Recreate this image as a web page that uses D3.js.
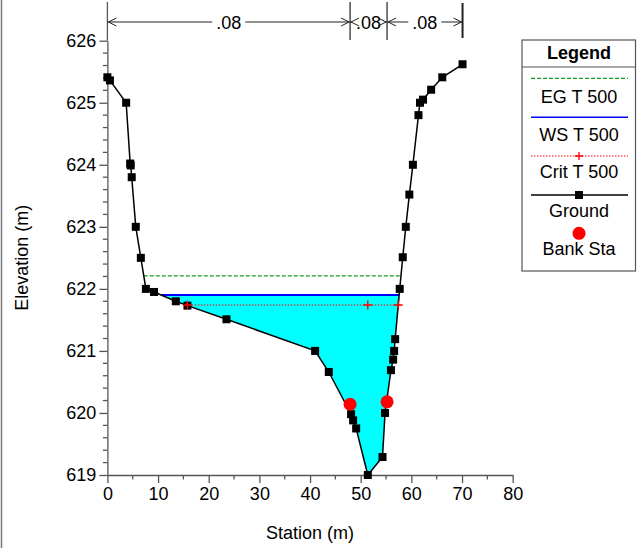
<!DOCTYPE html>
<html><head><meta charset="utf-8">
<script src="https://cdn.jsdelivr.net/npm/d3@7"></script>
<style>
html,body{margin:0;padding:0;background:#fff;}
svg{display:block;font-family:"Liberation Sans",Arial,sans-serif;}
</style></head>
<body>
<svg id="chart" width="637" height="548"></svg>
<script>
// ---- data ----
const groundStation = [0, 0.5, 3.7, 4.5, 4.6, 4.8, 5.6, 6.6, 7.6, 9.2, 13.5, 15.8, 23.5, 41.0, 43.7, 48.1, 48.5, 49.1, 51.4, 54.3, 54.8, 55.97, 56.4, 56.6, 56.8, 57.7, 58.3, 58.9, 59.6, 60.3, 61.4, 61.7, 62.3, 63.9, 66.1, 70.1];
const groundElev    = [625.41, 625.36, 625.0, 624.02, 623.99, 623.80, 623.0, 622.5, 622.0, 621.95, 621.8, 621.73, 621.51, 621.0, 620.66, 619.98, 619.88, 619.75, 619.0, 619.29, 620.0, 620.69, 620.86, 621.0, 621.19, 622.0, 622.51, 623.0, 623.52, 624.0, 624.8, 625.0, 625.05, 625.21, 625.41, 625.62];
const bankStation = [47.9, 55.2];
const bankElev = [620.14, 620.18];
const egElev = 622.21;
const wsElev = 621.90;
const critElev = 621.74;
const critMarkStation = [15.8, 51.4, 57.4];
const nValues = [".08", ".08", ".08"];
const nBounds = [0, 47.9, 55.2, 70.1];
const xTicks = [0, 10, 20, 30, 40, 50, 60, 70, 80];
const yTicks = [619, 620, 621, 622, 623, 624, 625, 626];
const legendLabels = ["EG T 500", "WS T 500", "Crit T 500", "Ground", "Bank Sta"];

// ---- setup ----
const svg = d3.select("#chart");
const FONT = 18;
const x = d3.scaleLinear().domain([0, 80]).range([107.4, 512.7]);
const y = d3.scaleLinear().domain([619, 626]).range([475, 40.7]);
const axisCol = "#555";

// left frame line
svg.append("line").attr("x1", 1.5).attr("x2", 1.5).attr("y1", 0).attr("y2", 548)
  .attr("stroke", "#777").attr("stroke-width", 1.5);

const ground = groundStation.map((s, i) => ({s, e: groundElev[i]}));

function crossings(level) {
  const out = [];
  for (let i = 0; i < ground.length - 1; i++) {
    const a = ground[i], b = ground[i + 1];
    if ((a.e - level) * (b.e - level) < 0) {
      const t = (level - a.e) / (b.e - a.e);
      out.push(a.s + t * (b.s - a.s));
    }
  }
  return out;
}

// water fill
const wsX = crossings(wsElev);
const wl = wsX[0], wr = wsX[wsX.length - 1];
const poly = [[wl, wsElev]].concat(ground.filter(g => g.s > wl && g.s < wr).map(g => [g.s, g.e])).concat([[wr, wsElev]]);
svg.append("path")
  .attr("d", d3.line().x(d => x(d[0])).y(d => y(d[1]))(poly) + "Z")
  .attr("fill", "#00ffff").attr("stroke", "none");

// EG
const egX = crossings(egElev);
svg.append("line").attr("x1", x(egX[0])).attr("x2", x(egX[egX.length - 1]))
  .attr("y1", y(egElev)).attr("y2", y(egElev))
  .attr("stroke", "#1a9a1a").attr("stroke-width", 1.3).attr("stroke-dasharray", "4,2");

// Crit line
const crX = crossings(critElev);
svg.append("line").attr("x1", x(crX[0])).attr("x2", x(crX[crX.length - 1]) + 3)
  .attr("y1", y(critElev)).attr("y2", y(critElev))
  .attr("stroke", "#ff0000").attr("stroke-width", 1).attr("stroke-dasharray", "1.5,1.5");

// WS
svg.append("line").attr("x1", x(wl)).attr("x2", x(wr))
  .attr("y1", y(wsElev)).attr("y2", y(wsElev))
  .attr("stroke", "#0000ff").attr("stroke-width", 2);

// axes
const gx = svg.append("g").attr("transform", `translate(0,${y(619)})`)
  .call(d3.axisBottom(x).tickValues(xTicks).tickFormat(d3.format("d")).tickSize(8).tickSizeOuter(0).tickPadding(4));
const gy = svg.append("g").attr("transform", `translate(${x(0)},0)`)
  .call(d3.axisLeft(y).tickValues(yTicks).tickFormat(d3.format("d")).tickSize(8).tickSizeOuter(0).tickPadding(3));
[gx, gy].forEach(g => {
  g.selectAll("path").attr("stroke", axisCol).attr("stroke-width", 1.3);
  g.selectAll("line").attr("stroke", axisCol).attr("stroke-width", 1.3);
  g.selectAll("text").attr("font-size", FONT).attr("fill", "#000")
    .attr("font-family", "Liberation Sans, Arial, sans-serif");
});
svg.append("line").attr("x1", x(0)).attr("x2", x(0)).attr("y1", 2).attr("y2", y(626))
  .attr("stroke", axisCol).attr("stroke-width", 1.3);
const xMinor = d3.range(5, 80, 10);
svg.append("g").selectAll("line").data(xMinor).join("line")
  .attr("x1", d => x(d)).attr("x2", d => x(d)).attr("y1", y(619)).attr("y2", y(619) + 4.5)
  .attr("stroke", axisCol).attr("stroke-width", 1.3);
const yMinor = d3.range(0, 35).map(i => 619 + i * 0.2).filter(v => Math.abs(v - Math.round(v)) > 0.01);
svg.append("g").selectAll("line").data(yMinor).join("line")
  .attr("x1", x(0) - 4.5).attr("x2", x(0)).attr("y1", d => y(d)).attr("y2", d => y(d))
  .attr("stroke", axisCol).attr("stroke-width", 1.3);

// axis titles
svg.append("text").attr("x", (x(0) + x(80)) / 2).attr("y", 539).attr("text-anchor", "middle")
  .attr("font-size", FONT).text("Station (m)");
svg.append("text").attr("transform", `translate(28,${(y(619) + y(626)) / 2}) rotate(-90)`)
  .attr("text-anchor", "middle").attr("font-size", FONT).text("Elevation (m)");

// ground
svg.append("path").datum(ground)
  .attr("d", d3.line().x(d => x(d.s)).y(d => y(d.e)))
  .attr("fill", "none").attr("stroke", "#000").attr("stroke-width", 1.5);
svg.append("g").selectAll("rect").data(ground).join("rect")
  .attr("x", d => x(d.s) - 4).attr("y", d => y(d.e) - 4).attr("width", 8).attr("height", 8)
  .attr("fill", "#000");

// crit markers (on top of ground)
critMarkStation.forEach(s => {
  const cx = x(s), cy = y(critElev);
  svg.append("path").attr("d", `M${cx - 4.5},${cy}H${cx + 4.5}M${cx},${cy - 4.5}V${cy + 4.5}`)
    .attr("stroke", "#ff0000").attr("stroke-width", 1.4);
});

// bank stations
svg.append("g").selectAll("circle").data(bankStation).join("circle")
  .attr("cx", d => x(d)).attr("cy", (d, i) => y(bankElev[i])).attr("r", 6.5)
  .attr("fill", "#ff0000");

// n-value annotation
const annY = 22;
nBounds.forEach((b, i) => {
  if (i === 0) return;
  const last = i === nBounds.length - 1;
  svg.append("line").attr("x1", x(b)).attr("x2", x(b)).attr("y1", last ? 3 : 2).attr("y2", last ? 38 : 40)
    .attr("stroke", "#222").attr("stroke-width", last ? 2 : 1.2);
});
function chevron(px, dir) {
  return `M${px - dir * 8},${annY - 4}L${px},${annY}L${px - dir * 8},${annY + 4}`;
}
nValues.forEach((n, i) => {
  const a = x(nBounds[i]), b = x(nBounds[i + 1]);
  const mid = (a + b) / 2;
  const t = svg.append("text").attr("x", mid).attr("y", annY + 6.5).attr("text-anchor", "middle")
    .attr("font-size", FONT).text(n);
  const w = t.node().getComputedTextLength();
  const g1 = mid - w / 2 - 4, g2 = mid + w / 2 + 4;
  if (g1 > a + 1) svg.append("line").attr("x1", a).attr("x2", g1).attr("y1", annY).attr("y2", annY).attr("stroke", "#222");
  if (g2 < b - 1) svg.append("line").attr("x1", g2).attr("x2", b).attr("y1", annY).attr("y2", annY).attr("stroke", "#222");
  svg.append("path").attr("d", chevron(a + 1, -1)).attr("fill", "none").attr("stroke", "#222").attr("stroke-width", 1);
  svg.append("path").attr("d", chevron(b - 1, 1)).attr("fill", "none").attr("stroke", "#222").attr("stroke-width", 1);
});

// legend
const lg = svg.append("g");
lg.append("rect").attr("x", 522).attr("y", 40).attr("width", 113.5).attr("height", 231)
  .attr("fill", "#fff").attr("stroke", "#555").attr("stroke-width", 1.2);
lg.append("line").attr("x1", 522).attr("x2", 635.5).attr("y1", 67).attr("y2", 67)
  .attr("stroke", "#555").attr("stroke-width", 1.2);
const lcx = 579;
lg.append("text").attr("x", lcx).attr("y", 59).attr("text-anchor", "middle")
  .attr("font-size", FONT).attr("font-weight", "bold").text("Legend");
const symY = [78.3, 117.3, 156, 195, 233.3];
const txtY = [102.5, 140.5, 178, 217, 254.5];
lg.append("line").attr("x1", 531).attr("x2", 628).attr("y1", symY[0]).attr("y2", symY[0])
  .attr("stroke", "#1a9a1a").attr("stroke-width", 1.3).attr("stroke-dasharray", "4,2");
lg.append("line").attr("x1", 531).attr("x2", 628).attr("y1", symY[1]).attr("y2", symY[1])
  .attr("stroke", "#0000ff").attr("stroke-width", 1.5);
lg.append("line").attr("x1", 531).attr("x2", 628).attr("y1", symY[2]).attr("y2", symY[2])
  .attr("stroke", "#ff0000").attr("stroke-width", 1).attr("stroke-dasharray", "1.5,1.5");
lg.append("path").attr("d", `M${lcx - 4},${symY[2]}H${lcx + 4}M${lcx},${symY[2] - 4}V${symY[2] + 4}`)
  .attr("stroke", "#ff0000").attr("stroke-width", 1.3);
lg.append("line").attr("x1", 531).attr("x2", 628).attr("y1", symY[3]).attr("y2", symY[3])
  .attr("stroke", "#000").attr("stroke-width", 1.5);
lg.append("rect").attr("x", lcx - 4).attr("y", symY[3] - 4).attr("width", 8).attr("height", 8).attr("fill", "#000");
lg.append("circle").attr("cx", lcx).attr("cy", symY[4]).attr("r", 6.5).attr("fill", "#ff0000");
legendLabels.forEach((l, i) => {
  lg.append("text").attr("x", lcx).attr("y", txtY[i]).attr("text-anchor", "middle")
    .attr("font-size", FONT).text(l);
});
</script>
</body></html>
